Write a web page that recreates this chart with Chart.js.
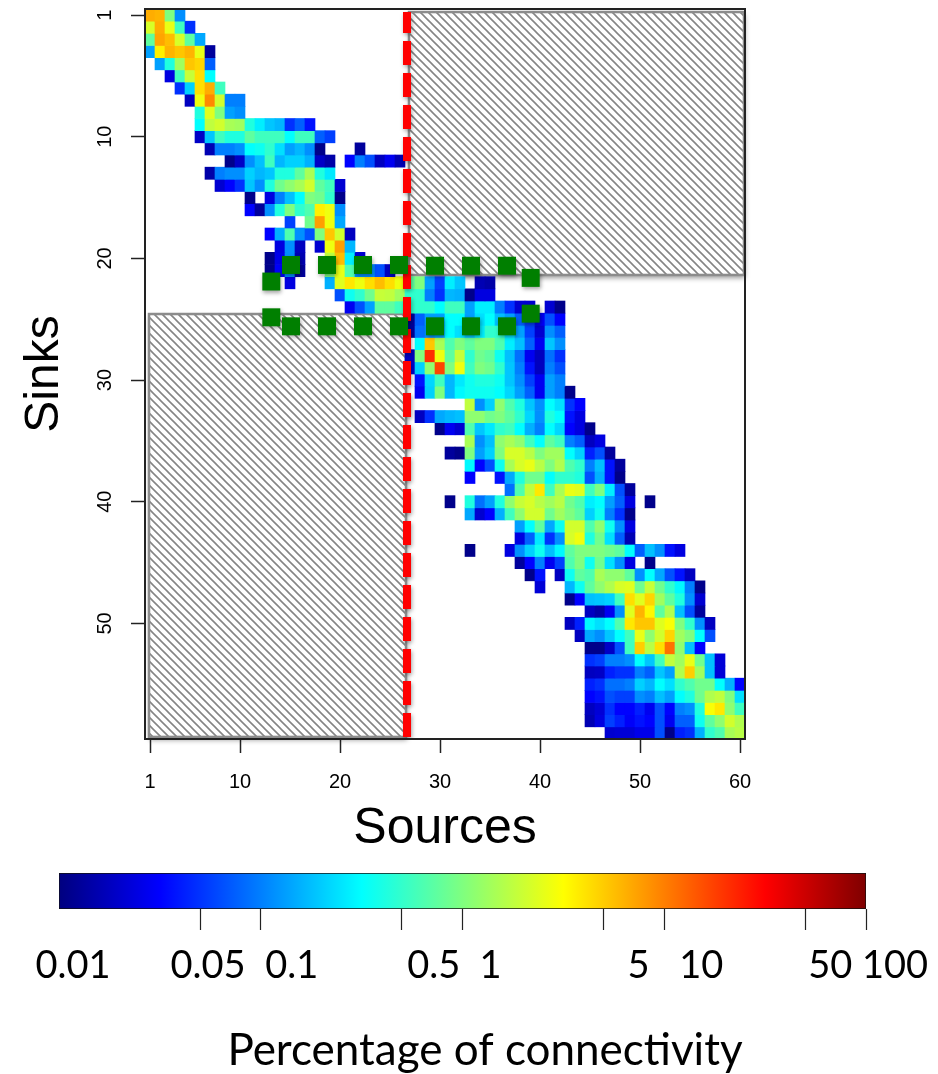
<!DOCTYPE html>
<html>
<head>
<meta charset="utf-8">
<title>Sinks and sources</title>
<script src="https://cdn.jsdelivr.net/npm/chart.js@4/dist/chart.umd.min.js"></script>
<style>
	html, body { margin: 0; padding: 0; background: #fff; }
	canvas { display: block; }
</style>
</head>
<body>
<canvas id="mapa" width="938" height="860"></canvas>
<canvas id="escala" width="938" height="214"></canvas>
<script>
var sourceColumns = [];
for (var c = 1; c <= 60; c++) sourceColumns.push(c);

var sourceTicks = [1, 10, 20, 30, 40, 50, 60];
// the sink axis of the original has its marks one row below the labelled number
var sinkTickRows = [1, 11, 21, 31, 41, 51];
var sinkTickLabels = ['1', '10', '20', '30', '40', '50'];

// first source column with a value, one entry per sink
var rowStart = [1, 1, 1, 1, 2, 3, 4, 5, 6, 6, 6, 7, 9, 7, 8, 11, 11, 15, 13, 14,
	13, 13, 15, 20, 21, 27, 27, 28, 27, 27, 28, 28, 33, 28, 30, 33, 31, 33, 33, 37,
	31, 33, 38, 38, 33, 38, 39, 40, 43, 45, 43, 44, 45, 45, 45, 45, 45, 45, 45, 47];

// percentage of connectivity, one array per sink
var rowValues = [
	[6.6, 6.2, 1, .115],
	[2.2, 6.6, 2.6, .56, .049],
	[.75, 7.1, 5.7, 2.2, .75, .145],
	[.135, 3.6, 6.2, 5.3, 6.2, 2.6, .013],
	[.135, .42, 1.35, 5.3, 4.6, .075],
	[.024, .56, 1.9, 4.2, .32],
	[.049, .21, 4.2, 6.6, .56],
	[.018, 2.75, 9.1, 2.1, .1, .1],
	[.42, 2.4, 1, .135, .115],
	[.32, 1.8, 2.1, 1.45, 1.35, .42, .275, .19, .166, .049, .075, .037],
	[.019, .19, .56, .42, .42, .75, .56, .56, .56, .32, .56, .56, .075, .056],
	[.016, .1, .1, .115, .32, .36, .49, .24, .135, .166, .115, .011, null, null, null, .013],
	[.011, .019, .115, .18, .56, .166, .21, .21, .156, .019, .0145, null, .032, .1, .065, .018, .028, .016],
	[.0145, .1, .115, .115, .21, .166, .19, .42, .42, .75, 1.45, .42, .26],
	[.021, .032, .049, .19, .115, .42, .87, 1.15, 1.45, 2.1, .75, .56, .021],
	[.011, null, .024, .1, .18, .32, 1, .87, .49, .011],
	[.032, .013, .115, .42, 1, .49, .65, 3.6, 2.75, .115],
	[.056, null, .87, 7.6, 2.75, .145],
	[.032, .156, .65, .115, .065, 1, 5.3, 2.1, .018],
	[.024, .115, .018, null, .021, 2.75, 7.6, .166],
	[.011, .026, .115, .016, null, null, 1.8, 5.7, .275, .021],
	[.011, .03, .115, .013, null, null, 1, 2.6, .65, .115, .115, .065, .018],
	[.024, null, null, null, .156, 2.4, 3.9, 2.75, 4.2, 5.7, 4.2, 2.75, .75, 1, .135, .056, .275, .19, null, .016, .0145],
	[.065, .36, .49, .87, 1.9, 1.8, 1.35, .49, .49, .1, .049, .166, .156, .011, .024, .024],
	[.028, .065, .135, .75, .75, .56, .49, .49, .49, .32, .56, .56, .135, .275, .275, .1, .049, .021, .021, null, .021, .011],
	[.013, .075, .135, .135, .32, .32, .135, .24, .32, .18, .135, .075, .056, .03, .065, .032],
	[.013, .087, .115, .135, .32, .24, .19, .275, .49, .49, .24, .135, .056, .021, .115, .075],
	[.32, 5.3, 1.45, .65, 1, .75, 1, 1, .65, .275, .18, .075, .028, .19, .115],
	[.018, 1, 21, 2.75, .75, 1.9, .49, .87, .75, .36, .18, .087, .028, .018, .087, .049],
	[.021, .21, 1.15, 17, 1, 2.75, .56, 1, .87, .49, .19, .1, .037, .018, .1, .065],
	[.037, .22, .56, .166, .26, .36, .42, .42, .36, .19, .115, .056, .028, .135, .1],
	[.028, .21, 1, .166, .3, .36, .36, .36, .32, .22, .135, .075, .028, .135, .1, .011],
	[1.8, .115, .21, 1.15, .65, .42, .19, .115, .32, .24, .049, .032],
	[.018, .049, .145, .166, .18, 1.15, 1.15, .87, 1, .75, .49, .22, .115, .42, .32, .037, .024],
	[.011, .028, .021, .65, .19, .26, .49, .56, .32, .156, .1, .32, .22, .032, .024, .011],
	[1.45, .115, .18, 1.15, 1.45, 1.15, .56, .32, .75, .56, .1, .075, .018, .024],
	[.013, .011, 1, .135, .21, 1, 2.2, 2.2, 1.67, 1, 1.35, 1.35, .32, .21, .042, .065, .013],
	[.3, .032, .065, .36, 1.45, 2.2, 2.6, 1.67, 1, 1.56, .65, .49, .1, .18, .037, .013],
	[.032, null, null, .037, .145, .42, .87, .87, .32, .49, .49, .42, .065, .156, .037, .011],
	[.087, .65, 1.8, 3.9, .56, 1.45, 2.6, 2.4, .56, 1, .275, .065, .013],
	[.011, null, .42, .087, .135, .42, 1.15, 1.9, 2.2, 1.67, 1.35, 1.67, .87, .65, .275, .32, .135, .075, .024, null, .011],
	[.145, .021, .032, .156, .56, 1.15, 2.1, 2.1, .87, 1.35, 1, .75, .21, .36, .1, .049, .011],
	[.135, .32, .75, .145, .36, 2.1, 2.1, .65, 1.15, .36, .115, .024],
	[.024, .075, .26, .049, .115, 2.2, 2.75, .42, .87, .24, .075, .016],
	[.011, null, null, null, .024, .115, .21, .36, .18, .3, .75, 1, 1, 1, .87, .75, .32, .075, .18, .115, .037, .024],
	[.013, .032, .1, .028, .056, .65, 1, .36, .87, .24, .115, .024, null, .011],
	[.011, .037, null, .018, .36, .75, .65, 1.45, 1.15, 1.15, .75, .115, .32, .145, .065, .037, .018],
	[.022, null, null, .166, .36, .75, 1.15, 1.56, 2.2, 2.4, .87, 1.9, .87, .49, .3, .1, .011],
	[.011, .032, .18, .19, .21, .56, 4.2, 2.4, 4.6, 1.35, .75, .42, .115, .021],
	[.018, .0145, .028, .115, 2.4, 6.2, 3.4, .75, 1.56, .18, .065, .013],
	[.018, .042, .3, .24, .32, .65, 3.9, 5.3, 5.3, 2.4, 3, 1, .49, .115, .018],
	[.018, .145, .115, .19, .32, .56, 2.6, 1.15, 2.1, 4.6, 1.35, 1, .32, .065],
	[.011, .011, .019, .065, .56, 4.9, 1.67, 4.2, 11.4, 1.15, .18, .032],
	[.049, .056, .1, .1, .115, .32, .19, .56, 1.8, 1.35, 2.6, .87, .18, .022],
	[.018, .019, .042, .049, .049, .1, .075, .19, .135, 1.56, 4.9, 1.35, .18, .022],
	[.042, .049, .087, .087, .1, .21, .166, .32, .24, .49, .65, .87, .87, .32, .156, .032],
	[.032, .037, .065, .056, .056, .115, .1, .18, .135, .32, .42, .87, 1.56, 1.8, 1, .24],
	[.018, .022, .049, .032, .032, .042, .028, .065, .032, .1, .115, .42, 3, 3.9, 1.15, .56],
	[.016, .024, .056, .042, .03, .037, .032, .065, .028, .075, .075, .36, .75, 1.15, 2.1, 1.56],
	[.021, .022, .022, .026, .026, .065, .011, .042, .049, .156, .49, .65, 1.45, 1.67]
];

// green boundary markers, in source / sink units
var markerSources = [13.13, 15.1, 18.7, 22.3, 25.9, 29.5, 33.1, 36.7, 39.07,
	13.13, 15.1, 18.7, 22.3, 25.9, 29.5, 33.1, 36.7, 39.07];
var markerSinks = [22.9, 21.54, 21.54, 21.54, 21.54, 21.6, 21.6, 21.6, 22.6,
	25.84, 26.58, 26.58, 26.58, 26.58, 26.58, 26.58, 26.58, 25.54];

// red divider and the two excluded blocks
var dividerSources = [26.7, 26.7];
var dividerSinks = [.75, 60.5];
var blockSourcesFrom = [.9, 26.9];
var blockSourcesTo = [26.6, 60.4];
var blockSinksFrom = [25.57, .75];
var blockSinksTo = [60.33, 22.36];

var legendTicks = [.01, .05, .1, .5, 1, 5, 10, 50, 100];
var legendLabels = ['0.01', '0.05', '0.1', '0.5', '1', '5', '10', '50', '100'];
var legendLabelShift = [14, 8, 31, 32, 28, 35, 37, 25, 29];

var jet = [[0, 0, 127], [0, 0, 255], [0, 127, 255], [0, 255, 255], [127, 255, 127],
	[255, 255, 0], [255, 127, 0], [255, 0, 0], [127, 0, 0]];

function corJet(valor) {
	var t = (Math.log10(valor) + 2) / 4 * (jet.length - 1);
	var i = Math.min(Math.floor(t), jet.length - 2);
	var f = t - i;
	var rgb = [0, 1, 2].map(function(k) {
		return Math.round(jet[i][k] + (jet[i + 1][k] - jet[i][k]) * f);
	});
	return 'rgb(' + rgb.join(',') + ')';
}

function pontos(xs, ys) {
	return xs.map(function(x, i) { return { x: x, y: ys[i] }; });
}

function hachura(ctx) {
	var tile = document.createElement('canvas');
	tile.width = 8;
	tile.height = 8;
	var t = tile.getContext('2d');
	t.strokeStyle = '#858585';
	t.lineWidth = 1.6;
	t.beginPath();
	t.moveTo(-2, -2); t.lineTo(10, 10);
	t.moveTo(-10, -2); t.lineTo(2, 10);
	t.moveTo(6, -2); t.lineTo(10, 2);
	t.stroke();
	return ctx.createPattern(tile, 'repeat');
}

var blocos = {
	id: 'blocos',
	beforeDatasetsDraw: function(chart) {
		var ctx = chart.ctx, sx = chart.scales.xv, sy = chart.scales.y;
		blockSourcesFrom.forEach(function(from, i) {
			var x0 = sx.getPixelForValue(from), x1 = sx.getPixelForValue(blockSourcesTo[i]);
			var y0 = sy.getPixelForValue(blockSinksFrom[i]), y1 = sy.getPixelForValue(blockSinksTo[i]);
			ctx.save();
			ctx.shadowColor = 'rgba(0,0,0,.4)';
			ctx.shadowBlur = 5;
			ctx.shadowOffsetX = 1;
			ctx.shadowOffsetY = 3;
			ctx.fillStyle = '#fff';
			ctx.fillRect(x0, y0, x1 - x0, y1 - y0);
			ctx.restore();
			ctx.save();
			ctx.fillStyle = hachura(ctx);
			ctx.fillRect(x0, y0, x1 - x0, y1 - y0);
			ctx.strokeStyle = '#8c8c8c';
			ctx.lineWidth = 2.5;
			ctx.strokeRect(x0, y0, x1 - x0, y1 - y0);
			ctx.restore();
		});
	},
	afterDatasetsDraw: function(chart) {
		var a = chart.chartArea, ctx = chart.ctx;
		ctx.save();
		ctx.strokeStyle = '#222';
		ctx.lineWidth = 2;
		ctx.strokeRect(a.left, a.top, a.right - a.left, a.bottom - a.top);
		ctx.restore();
	},
	// faint shadow under the overlay marks only
	beforeDatasetDraw: function(chart, args) {
		if (args.meta.type === 'bar') return;
		chart.ctx.save();
		chart.ctx.shadowColor = 'rgba(0,0,0,.35)';
		chart.ctx.shadowBlur = 4;
		chart.ctx.shadowOffsetX = 1;
		chart.ctx.shadowOffsetY = 2;
	},
	afterDatasetDraw: function(chart, args) {
		if (args.meta.type === 'bar') return;
		chart.ctx.restore();
	}
};

var conjuntos = [{
	type: 'scatter',
	xAxisID: 'xv',
	yAxisID: 'y',
	order: 0,
	data: pontos(markerSources, markerSinks),
	pointStyle: 'rect',
	pointRadius: 12.7,
	pointBorderWidth: 0,
	pointBackgroundColor: '#007f00',
	backgroundColor: '#007f00'
}, {
	type: 'line',
	xAxisID: 'xv',
	yAxisID: 'y',
	order: 1,
	data: pontos(dividerSources, dividerSinks),
	borderColor: '#ff0000',
	borderWidth: 8,
	borderDash: [24, 8],
	borderDashOffset: 3,
	pointRadius: 0,
	fill: false
}];

rowValues.forEach(function(valores, r) {
	var sink = r + 1;
	var celulas = [];
	var cores = [];
	sourceColumns.forEach(function(col) {
		var v = valores[col - rowStart[r]];
		if (v === undefined || v === null) {
			celulas.push(null);
			cores.push('transparent');
		} else {
			celulas.push([sink - .5, sink + .5]);
			cores.push(corJet(v));
		}
	});
	conjuntos.push({
		type: 'bar',
		xAxisID: 'x',
		yAxisID: 'y',
		order: 2,
		grouped: false,
		barPercentage: 1,
		categoryPercentage: 1,
		data: celulas,
		backgroundColor: cores,
		borderWidth: 0
	});
});

var mapa = new Chart(document.getElementById('mapa').getContext('2d'), {
	data: { labels: sourceColumns, datasets: conjuntos },
	plugins: [blocos],
	options: {
		responsive: false,
		animation: false,
		layout: { autoPadding: false, padding: { left: 0, top: 9, right: 193, bottom: 0 } },
		plugins: { legend: { display: false }, tooltip: { enabled: false } },
		scales: {
			x: {
				type: 'category',
				offset: true,
				position: 'bottom',
				afterBuildTicks: function(scale) {
					scale.ticks = sourceTicks.map(function(s) { return { value: s - 1 }; });
				},
				afterFit: function(scale) {
					scale.height = 121;
					scale.paddingLeft = 0;
					scale.paddingRight = 0;
				},
				grid: { offset: false, drawOnChartArea: false, tickLength: 14, tickColor: '#222', tickWidth: 1.5 },
				border: { display: false },
				ticks: {
					autoSkip: false,
					maxRotation: 0,
					padding: 17,
					color: '#000',
					font: { family: '"Liberation Sans"', size: 20 }
				},
				title: {
					display: true,
					text: 'Sources',
					color: '#000',
					padding: { top: 0, bottom: 1 },
					font: { family: '"Liberation Sans"', size: 50 }
				}
			},
			xv: { type: 'linear', display: false, min: .5, max: 60.5 },
			y: {
				type: 'linear',
				reverse: true,
				min: .5,
				max: 60.5,
				position: 'left',
				afterBuildTicks: function(scale) {
					scale.ticks = sinkTickRows.map(function(s) { return { value: s }; });
				},
				afterFit: function(scale) {
					scale.width = 145;
					scale.paddingTop = 0;
					scale.paddingBottom = 0;
				},
				grid: { drawOnChartArea: false, tickLength: 14, tickColor: '#222', tickWidth: 1.5 },
				border: { display: false },
				ticks: {
					autoSkip: false,
					minRotation: 90,
					maxRotation: 90,
					crossAlign: 'center',
					padding: 14,
					color: '#000',
					font: { family: '"Liberation Sans"', size: 20 },
					callback: function(value, index) { return sinkTickLabels[index]; }
				},
				title: {
					display: true,
					text: 'Sinks',
					color: '#000',
					padding: { top: 16, bottom: 0 },
					font: { family: '"Liberation Sans"', size: 48 }
				}
			}
		}
	}
});

var textosEscala = {
	id: 'textosEscala',
	afterDraw: function(chart) {
		var ctx = chart.ctx, sx = chart.scales.x;
		ctx.save();
		ctx.fillStyle = '#000';
		ctx.textAlign = 'center';
		ctx.textBaseline = 'middle';
		ctx.font = '38px Lato';
		legendTicks.forEach(function(v, i) {
			ctx.fillText(legendLabels[i], sx.getPixelForValue(v) + legendLabelShift[i], 106);
		});
		ctx.font = '44px Lato';
		ctx.fillText('Percentage of connectivity', 485, 191);
		ctx.restore();
	}
};

var escala = new Chart(document.getElementById('escala').getContext('2d'), {
	type: 'bar',
	data: {
		labels: ['Percentage of connectivity'],
		datasets: [{
			data: [[.01, 100]],
			barPercentage: 1,
			categoryPercentage: 1,
			borderWidth: 1,
			borderColor: '#111',
			borderSkipped: false,
			backgroundColor: function(ctx) {
				var area = ctx.chart.chartArea;
				if (!area) return '#00f';
				var g = ctx.chart.ctx.createLinearGradient(area.left, 0, area.right, 0);
				jet.forEach(function(c, i) {
					g.addColorStop(i / (jet.length - 1), 'rgb(' + c.join(',') + ')');
				});
				return g;
			}
		}]
	},
	plugins: [textosEscala],
	options: {
		indexAxis: 'y',
		responsive: false,
		animation: false,
		layout: { padding: { left: 59, top: 13, right: 72, bottom: 0 } },
		plugins: { legend: { display: false }, tooltip: { enabled: false } },
		scales: {
			x: {
				type: 'logarithmic',
				min: .01,
				max: 100,
				position: 'bottom',
				afterBuildTicks: function(scale) {
					scale.ticks = legendTicks.map(function(v) { return { value: v }; });
				},
				afterFit: function(scale) {
					scale.height = 165;
					scale.paddingLeft = 0;
					scale.paddingRight = 0;
				},
				grid: {
					drawOnChartArea: false,
					tickLength: 21,
					tickWidth: 1.2,
					tickColor: function(ctx) { return ctx.tick && ctx.tick.value === .01 ? 'transparent' : '#222'; }
				},
				border: { display: false },
				ticks: { display: false }
			},
			y: { type: 'category', display: false, offset: true }
		}
	}
});
</script>
</body>
</html>
